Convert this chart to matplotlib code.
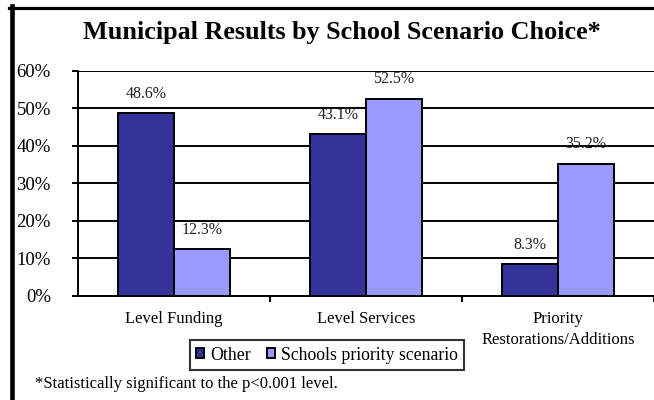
import numpy as np
import matplotlib
matplotlib.use("Agg")
import matplotlib.pyplot as plt
from matplotlib.lines import Line2D

categories = ["Level Funding", "Level Services", "Priority\nRestorations/Additions"]
other = [48.6, 43.1, 8.3]
schools = [12.3, 52.5, 35.2]
series_names = ["Other", "Schools priority scenario"]
yticks = [0, 10, 20, 30, 40, 50, 60]

plt.rcParams['font.family'] = ['Liberation Serif', 'DejaVu Serif']

fig = plt.figure(figsize=(6.54, 4.0), dpi=100)
ax = fig.add_axes([78/654, 1 - 295.5/400, 1 - 78/654, (295.5 - 70.7)/400])

x = np.arange(len(categories))
w = 0.29
b1 = ax.bar(x - w/2, other, w, color="#333399", edgecolor="black", linewidth=1.4, zorder=3)
b2 = ax.bar(x + w/2, schools, w, color="#9999FF", edgecolor="black", linewidth=1.4, zorder=3)

for bars, vals in [(b1, other), (b2, schools)]:
    for r, v in zip(bars, vals):
        ax.annotate(f"{v:.1f}%", (r.get_x() + r.get_width()/2, v),
                    xytext=(0, 14), textcoords="offset points",
                    ha="center", va="center", fontsize=11.5, color="#222222", zorder=4)

ax.set_xlim(-0.5, 2.5)
ax.set_ylim(0, 60)
ax.set_yticks(yticks)
ax.set_yticklabels([f"{t}%" for t in yticks], fontsize=13.5)
ax.yaxis.grid(True, color="black", linewidth=1.4, zorder=0)
ax.tick_params(axis="y", length=4.5, width=1.4, pad=15)

ax.set_xticks(x)
ax.set_xticklabels(categories, fontsize=12, linespacing=1.45)
ax.set_xticks([0.5, 1.5, 2.5], minor=True)
ax.tick_params(axis="x", which="major", length=0, pad=11)
ax.tick_params(axis="x", which="minor", length=4.5, width=1.4)

for s in ["top", "right"]:
    ax.spines[s].set_visible(False)
for s in ["left", "bottom"]:
    ax.spines[s].set_linewidth(1.4)
ax.set_axisbelow(True)

fig.text(342/654, 1 - 33/400, "Municipal Results by School Scenario Choice*",
         ha="center", va="center", fontsize=18.8, fontweight="bold")

leg = fig.legend([b1, b2], series_names, loc="center", bbox_to_anchor=(327/654, 1 - 355/400),
                 ncol=2, fontsize=12.8, frameon=True, fancybox=False, edgecolor="black",
                 handlelength=0.45, handleheight=0.45, handletextpad=0.35, columnspacing=0.9,
                 borderpad=0.35)
leg.get_frame().set_linewidth(1.5)

fig.text(35/654, 1 - 384/400, "*Statistically significant to the p<0.001 level.",
         ha="left", va="center", fontsize=12)

# outer frame (left and top edges visible)
fig.add_artist(Line2D([11.5/654, 11.5/654], [0, 1 - 6/400], color="black", linewidth=3.3,
                      transform=fig.transFigure))
fig.add_artist(Line2D([9/654, 1], [1 - 7.5/400, 1 - 7.5/400], color="black", linewidth=2.3,
                      transform=fig.transFigure))

fig.savefig("out.png", dpi=100)
